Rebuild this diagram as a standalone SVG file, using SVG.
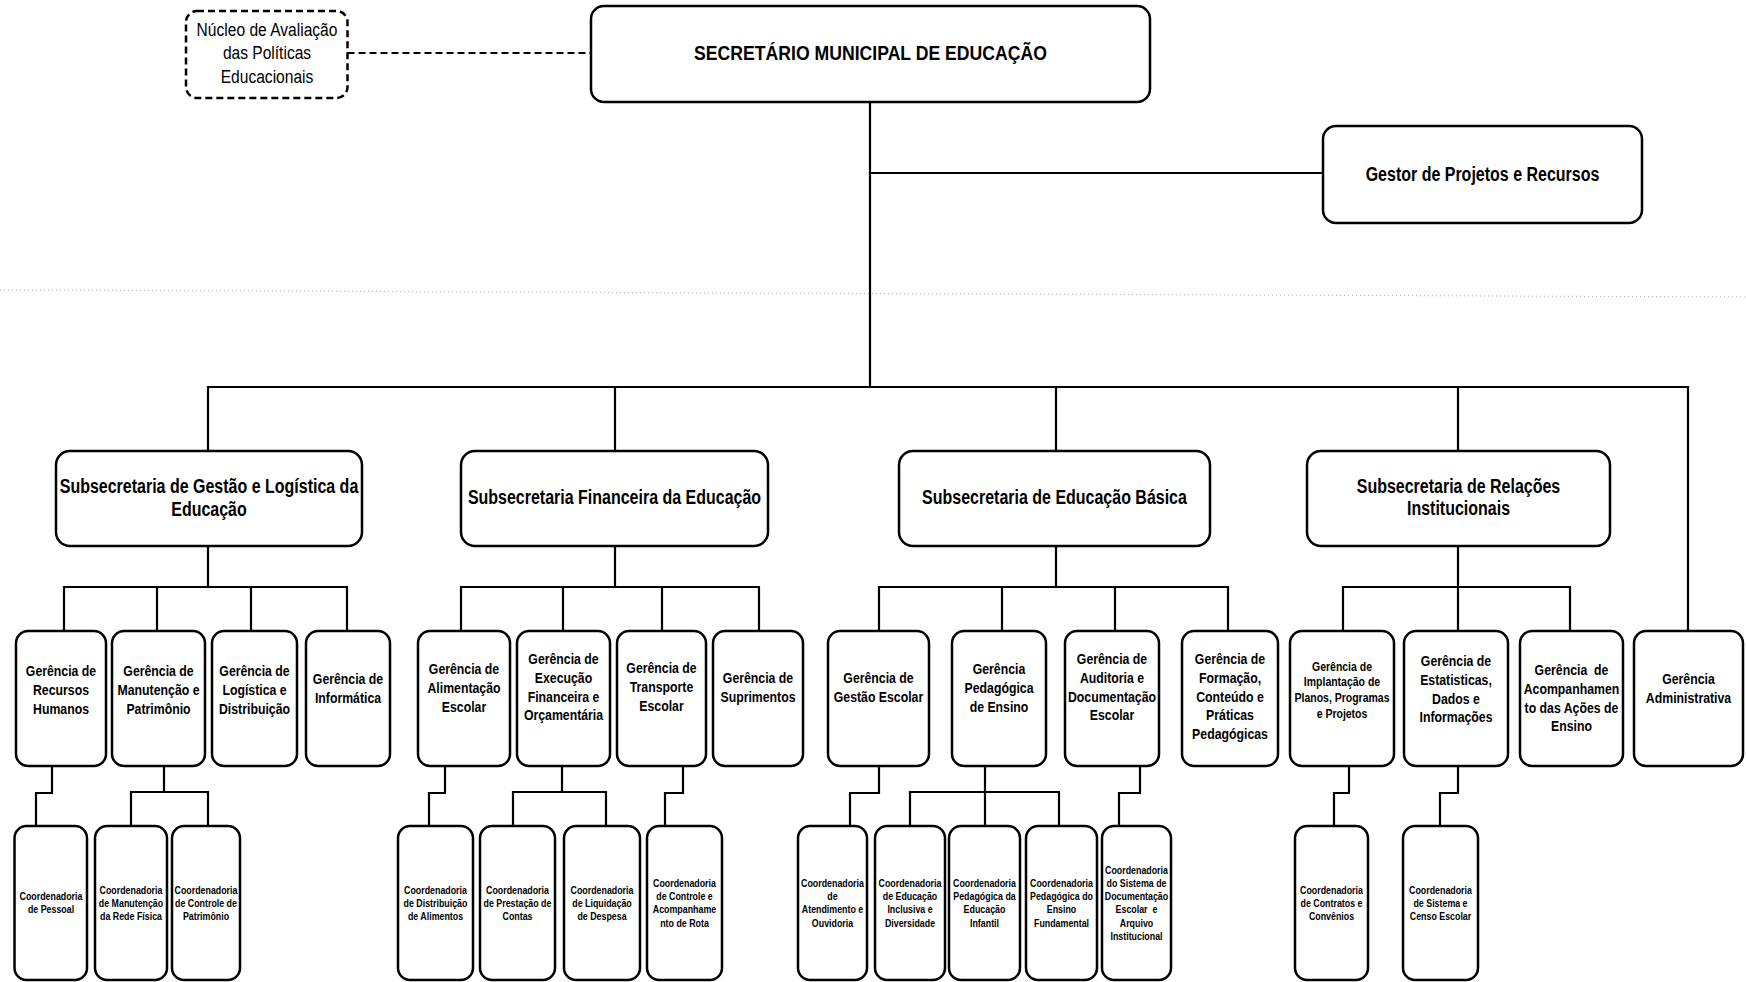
<svg xmlns="http://www.w3.org/2000/svg" width="1746" height="982" viewBox="0 0 1746 982">
<style>
.box{fill:#fff;stroke:#000;stroke-width:2.5}
.dbox{fill:#fff;stroke:#000;stroke-width:2.5;stroke-dasharray:7 4}
.ln{fill:none;stroke:#000;stroke-width:2.2}
.dln{fill:none;stroke:#000;stroke-width:2;stroke-dasharray:7 4}
.scan{stroke:#aaa;stroke-width:1;stroke-dasharray:1 3;fill:none}
text{font-family:"Liberation Sans",Arial,sans-serif;font-weight:bold;text-anchor:middle;fill:#000}
.reg{font-weight:normal;font-size:19px}
.top{font-size:21px}
.sub{font-size:19.5px}
.ger{font-size:15px}
.gsm{font-size:12.8px}
.co{font-size:10.8px}
</style>
<line class="scan" x1="0" y1="290" x2="1746" y2="297"/>
<g id="connectors">
<path class="dln" d="M347.5 53 H591"/>
<path class="ln" d="M870 102 V387 M870 173 H1323 M208 451 V387 H1688 V631 M615 387 V451 M1056 387 V451 M1458 387 V451"/>
<path class="ln" d="M208 546 V587 M64 631 V587 H347 V631 M157 587 V631 M251 587 V631"/>
<path class="ln" d="M615 546 V587 M461 631 V587 H759 V631 M563 587 V631 M662 587 V631"/>
<path class="ln" d="M1056 546 V587 M879 631 V587 H1228 V631 M1002 587 V631 M1115 587 V631"/>
<path class="ln" d="M1458 546 V631 M1343 631 V587 H1570 V631"/>
<path class="ln" d="M52 766 V793 H36 V826 M164 766 V792 M131 826 V792 H208 V826"/>
<path class="ln" d="M445 766 V793 H429 V826 M562 766 V792 M513 826 V792 H606 V826 M683 766 V793 H665 V826"/>
<path class="ln" d="M879 766 V793 H850 V826 M985 766 V826 M910 826 V792 H1059 V826 M1140 766 V793 H1119 V826"/>
<path class="ln" d="M1349 766 V793 H1334 V826 M1458 766 V793 H1440 V826"/>
</g>
<g id="nucleo"><rect class="dbox" x="186" y="11" width="161.5" height="87" rx="11"/>
<text class="reg" transform="translate(267 0) scale(.82 1)"><tspan x="0" y="36">Núcleo de Avaliação</tspan><tspan x="0" y="59">das Políticas</tspan><tspan x="0" y="83">Educacionais</tspan></text></g>
<g id="secretario"><rect class="box" x="591" y="6" width="559" height="96" rx="13"/>
<text class="top" transform="translate(870.5 0) scale(.84 1)"><tspan x="0" y="60.5">SECRETÁRIO MUNICIPAL DE EDUCAÇÃO</tspan></text></g>
<g id="gestor"><rect class="box" x="1323" y="126" width="319" height="97" rx="13"/>
<text class="sub" transform="translate(1482.5 0) scale(.82 1)"><tspan x="0" y="181">Gestor de Projetos e Recursos</tspan></text></g>

<g id="sub-gestao"><rect class="box" x="56" y="451" width="306" height="95" rx="14"/>
<text class="sub" transform="translate(209 0) scale(.82 1)"><tspan x="0" y="493">Subsecretaria de Gestão e Logística da</tspan><tspan x="0" y="516">Educação</tspan></text></g>
<g id="sub-financeira"><rect class="box" x="461" y="451" width="307" height="95" rx="14"/>
<text class="sub" transform="translate(614.5 0) scale(.82 1)"><tspan x="0" y="504">Subsecretaria Financeira da Educação</tspan></text></g>
<g id="sub-basica"><rect class="box" x="899" y="451" width="311" height="95" rx="14"/>
<text class="sub" transform="translate(1054.5 0) scale(.82 1)"><tspan x="0" y="504">Subsecretaria de Educação Básica</tspan></text></g>
<g id="sub-relacoes"><rect class="box" x="1307" y="451" width="303" height="95" rx="14"/>
<text class="sub" transform="translate(1458.5 0) scale(.82 1)"><tspan x="0" y="493">Subsecretaria de Relações</tspan><tspan x="0" y="515">Institucionais</tspan></text></g>

<g id="g-rh"><rect class="box" x="16" y="631" width="90" height="135" rx="12"/>
<text class="ger" transform="translate(61 0) scale(.82 1)"><tspan x="0" y="676.4">Gerência de</tspan><tspan x="0" y="695">Recursos</tspan><tspan x="0" y="713.6">Humanos</tspan></text></g>
<g id="g-manutencao"><rect class="box" x="112" y="631" width="93" height="135" rx="12"/>
<text class="ger" transform="translate(158.5 0) scale(.82 1)"><tspan x="0" y="676.4">Gerência de</tspan><tspan x="0" y="695">Manutenção e</tspan><tspan x="0" y="713.6">Patrimônio</tspan></text></g>
<g id="g-logistica"><rect class="box" x="212" y="631" width="85" height="135" rx="12"/>
<text class="ger" transform="translate(254.5 0) scale(.82 1)"><tspan x="0" y="676.4">Gerência de</tspan><tspan x="0" y="695">Logística e</tspan><tspan x="0" y="713.6">Distribuição</tspan></text></g>
<g id="g-informatica"><rect class="box" x="306" y="631" width="84" height="135" rx="12"/>
<text class="ger" transform="translate(348 0) scale(.82 1)"><tspan x="0" y="684.4">Gerência de</tspan><tspan x="0" y="703">Informática</tspan></text></g>

<g id="g-alimentacao"><rect class="box" x="418" y="631" width="92" height="135" rx="12"/>
<text class="ger" transform="translate(464 0) scale(.82 1)"><tspan x="0" y="674.4">Gerência de</tspan><tspan x="0" y="693">Alimentação</tspan><tspan x="0" y="711.6">Escolar</tspan></text></g>
<g id="g-execucao"><rect class="box" x="517" y="631" width="93" height="135" rx="12"/>
<text class="ger" transform="translate(563.5 0) scale(.82 1)"><tspan x="0" y="664.4">Gerência de</tspan><tspan x="0" y="683">Execução</tspan><tspan x="0" y="701.6">Financeira e</tspan><tspan x="0" y="720.2">Orçamentária</tspan></text></g>
<g id="g-transporte"><rect class="box" x="617" y="631" width="89" height="135" rx="12"/>
<text class="ger" transform="translate(661.5 0) scale(.82 1)"><tspan x="0" y="673.4">Gerência de</tspan><tspan x="0" y="692">Transporte</tspan><tspan x="0" y="710.6">Escolar</tspan></text></g>
<g id="g-suprimentos"><rect class="box" x="713" y="631" width="90" height="135" rx="12"/>
<text class="ger" transform="translate(758 0) scale(.82 1)"><tspan x="0" y="683.4">Gerência de</tspan><tspan x="0" y="702">Suprimentos</tspan></text></g>

<g id="g-gestao-escolar"><rect class="box" x="828" y="631" width="101" height="135" rx="12"/>
<text class="ger" transform="translate(878.5 0) scale(.82 1)"><tspan x="0" y="683.4">Gerência de</tspan><tspan x="0" y="702">Gestão Escolar</tspan></text></g>
<g id="g-pedagogica"><rect class="box" x="952" y="631" width="94" height="135" rx="12"/>
<text class="ger" transform="translate(999 0) scale(.82 1)"><tspan x="0" y="674.4">Gerência</tspan><tspan x="0" y="693">Pedagógica</tspan><tspan x="0" y="711.6">de Ensino</tspan></text></g>
<g id="g-auditoria"><rect class="box" x="1065" y="631" width="94" height="135" rx="12"/>
<text class="ger" transform="translate(1112 0) scale(.82 1)"><tspan x="0" y="664.4">Gerência de</tspan><tspan x="0" y="683">Auditoria e</tspan><tspan x="0" y="701.6">Documentação</tspan><tspan x="0" y="720.2">Escolar</tspan></text></g>
<g id="g-formacao"><rect class="box" x="1182" y="631" width="96" height="135" rx="12"/>
<text class="ger" transform="translate(1230 0) scale(.82 1)"><tspan x="0" y="664.4">Gerência de</tspan><tspan x="0" y="683">Formação,</tspan><tspan x="0" y="701.6">Conteúdo e</tspan><tspan x="0" y="720.2">Práticas</tspan><tspan x="0" y="738.8">Pedagógicas</tspan></text></g>

<g id="g-implantacao"><rect class="box" x="1290" y="631" width="104" height="135" rx="12"/>
<text class="gsm" transform="translate(1342 0) scale(.82 1)"><tspan x="0" y="670.6">Gerência de</tspan><tspan x="0" y="686.3">Implantação de</tspan><tspan x="0" y="702">Planos, Programas</tspan><tspan x="0" y="717.7">e Projetos</tspan></text></g>
<g id="g-estatisticas"><rect class="box" x="1404" y="631" width="104" height="135" rx="12"/>
<text class="ger" transform="translate(1456 0) scale(.82 1)"><tspan x="0" y="666.4">Gerência de</tspan><tspan x="0" y="685">Estatisticas,</tspan><tspan x="0" y="703.6">Dados e</tspan><tspan x="0" y="722.2">Informações</tspan></text></g>
<g id="g-acompanhamento"><rect class="box" x="1520" y="631" width="103" height="135" rx="12"/>
<text class="ger" transform="translate(1571.5 0) scale(.82 1)"><tspan x="0" y="675.4" xml:space="preserve">Gerência  de</tspan><tspan x="0" y="694">Acompanhamen</tspan><tspan x="0" y="712.6">to das Ações de</tspan><tspan x="0" y="731.2">Ensino</tspan></text></g>
<g id="g-administrativa"><rect class="box" x="1634" y="631" width="109" height="135" rx="12"/>
<text class="ger" transform="translate(1688.5 0) scale(.82 1)"><tspan x="0" y="684.4">Gerência</tspan><tspan x="0" y="703">Administrativa</tspan></text></g>

<g id="c-pessoal"><rect class="box" x="14.5" y="826" width="72.5" height="154" rx="12"/>
<text class="co" transform="translate(51 0) scale(.82 1)"><tspan x="0" y="900.3">Coordenadoria</tspan><tspan x="0" y="913.5">de Pessoal</tspan></text></g>
<g id="c-manutencao"><rect class="box" x="95" y="826" width="72" height="154" rx="12"/>
<text class="co" transform="translate(131 0) scale(.82 1)"><tspan x="0" y="893.7">Coordenadoria</tspan><tspan x="0" y="906.9">de Manutenção</tspan><tspan x="0" y="920.1">da Rede Física</tspan></text></g>
<g id="c-patrimonio"><rect class="box" x="172" y="826" width="68" height="154" rx="12"/>
<text class="co" transform="translate(206 0) scale(.82 1)"><tspan x="0" y="893.7">Coordenadoria</tspan><tspan x="0" y="906.9">de Controle de</tspan><tspan x="0" y="920.1">Patrimônio</tspan></text></g>
<g id="c-distribuicao"><rect class="box" x="398" y="826" width="75" height="154" rx="12"/>
<text class="co" transform="translate(435.5 0) scale(.82 1)"><tspan x="0" y="893.7">Coordenadoria</tspan><tspan x="0" y="906.9">de Distribuição</tspan><tspan x="0" y="920.1">de Alimentos</tspan></text></g>
<g id="c-prestacao"><rect class="box" x="480" y="826" width="75" height="154" rx="12"/>
<text class="co" transform="translate(517.5 0) scale(.82 1)"><tspan x="0" y="893.7">Coordenadoria</tspan><tspan x="0" y="906.9">de Prestação de</tspan><tspan x="0" y="920.1">Contas</tspan></text></g>
<g id="c-liquidacao"><rect class="box" x="564" y="826" width="76" height="154" rx="12"/>
<text class="co" transform="translate(602 0) scale(.82 1)"><tspan x="0" y="893.7">Coordenadoria</tspan><tspan x="0" y="906.9">de Liquidação</tspan><tspan x="0" y="920.1">de Despesa</tspan></text></g>
<g id="c-rota"><rect class="box" x="647" y="826" width="75" height="154" rx="12"/>
<text class="co" transform="translate(684.5 0) scale(.82 1)"><tspan x="0" y="887.1">Coordenadoria</tspan><tspan x="0" y="900.3">de Controle e</tspan><tspan x="0" y="913.5">Acompanhame</tspan><tspan x="0" y="926.7">nto de Rota</tspan></text></g>
<g id="c-atendimento"><rect class="box" x="798" y="826" width="69" height="154" rx="12"/>
<text class="co" transform="translate(832.5 0) scale(.82 1)"><tspan x="0" y="887.1">Coordenadoria</tspan><tspan x="0" y="900.3">de</tspan><tspan x="0" y="913.5">Atendimento e</tspan><tspan x="0" y="926.7">Ouvidoria</tspan></text></g>
<g id="c-inclusiva"><rect class="box" x="875" y="826" width="70" height="154" rx="12"/>
<text class="co" transform="translate(910 0) scale(.82 1)"><tspan x="0" y="887.1">Coordenadoria</tspan><tspan x="0" y="900.3">de Educação</tspan><tspan x="0" y="913.5">Inclusiva e</tspan><tspan x="0" y="926.7">Diversidade</tspan></text></g>
<g id="c-infantil"><rect class="box" x="949" y="826" width="71" height="154" rx="12"/>
<text class="co" transform="translate(984.5 0) scale(.82 1)"><tspan x="0" y="887.1">Coordenadoria</tspan><tspan x="0" y="900.3">Pedagógica da</tspan><tspan x="0" y="913.5">Educação</tspan><tspan x="0" y="926.7">Infantil</tspan></text></g>
<g id="c-fundamental"><rect class="box" x="1026" y="826" width="71" height="154" rx="12"/>
<text class="co" transform="translate(1061.5 0) scale(.82 1)"><tspan x="0" y="887.1">Coordenadoria</tspan><tspan x="0" y="900.3">Pedagógica do</tspan><tspan x="0" y="913.5">Ensino</tspan><tspan x="0" y="926.7">Fundamental</tspan></text></g>
<g id="c-arquivo"><rect class="box" x="1102" y="826" width="69" height="154" rx="12"/>
<text class="co" transform="translate(1136.5 0) scale(.82 1)"><tspan x="0" y="873.9">Coordenadoria</tspan><tspan x="0" y="887.1">do Sistema de</tspan><tspan x="0" y="900.3">Documentação</tspan><tspan x="0" y="913.5" xml:space="preserve">Escolar  e</tspan><tspan x="0" y="926.7">Arquivo</tspan><tspan x="0" y="939.9">Institucional</tspan></text></g>
<g id="c-contratos"><rect class="box" x="1295" y="826" width="73" height="154" rx="12"/>
<text class="co" transform="translate(1331.5 0) scale(.82 1)"><tspan x="0" y="893.7">Coordenadoria</tspan><tspan x="0" y="906.9">de Contratos e</tspan><tspan x="0" y="920.1">Convênios</tspan></text></g>
<g id="c-censo"><rect class="box" x="1403" y="826" width="75" height="154" rx="12"/>
<text class="co" transform="translate(1440.5 0) scale(.82 1)"><tspan x="0" y="893.7">Coordenadoria</tspan><tspan x="0" y="906.9">de Sistema e</tspan><tspan x="0" y="920.1">Censo Escolar</tspan></text></g>
</svg>
